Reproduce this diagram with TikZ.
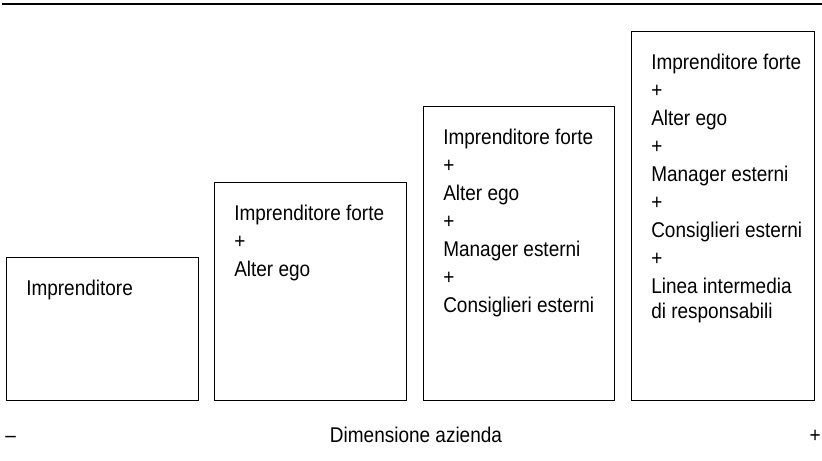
\documentclass[tikz,border=0pt]{standalone}
\usepackage{fontspec}
\setmainfont[FakeStretch=0.89]{Liberation Sans}
\tikzset{
  box/.style={draw, line width=1pt, anchor=south west, inner sep=0pt},
  txt/.style={anchor=north west, inner sep=0pt, align=left,
    font=\fontsize{16}{21}\selectfont},
  lbl/.style={inner sep=0pt, font=\fontsize{16}{21}\selectfont}
}
\begin{document}
\begin{tikzpicture}[x=0.75pt,y=0.75pt]
\useasboundingbox (0,0) rectangle (822,461);
\coordinate (rl) at (2,457); \coordinate (rr) at (822,457);
\draw[line width=1.5pt] (rl) -- (rr);
% the four stages
\node[box, minimum width=144pt, minimum height=107.25pt] (b1) at (6,60) {};
\node[box, minimum width=144pt, minimum height=163.5pt] (b2) at (214,60) {};
\node[box, minimum width=143.25pt, minimum height=220.5pt] (b3) at (423,60) {};
\node[box, minimum width=137.25pt, minimum height=276.75pt] (b4) at (631,60) {};
\node[txt] (t1) at (26,181.5) {Imprenditore};
\node[txt] (t2) at (234,256.5) {Imprenditore forte\\+\\Alter ego};
\node[txt] (t3) at (443,332.5) {Imprenditore forte\\+\\Alter ego\\+\\Manager esterni\\+\\Consiglieri esterni};
\node[txt] (t4) at (651,407.5) {Imprenditore forte\\+\\Alter ego\\+\\Manager esterni\\+\\Consiglieri esterni\\+\\Linea intermedia\\[-2.25pt]di responsabili};
% axis labels
\node[lbl, anchor=base west] (lo) at (5,18) {\textendash};
\node[lbl, anchor=base] (dim) at (416,18) {Dimensione azienda};
\node[lbl, anchor=base east] (hi) at (821,18) {+};
\end{tikzpicture}
\end{document}
